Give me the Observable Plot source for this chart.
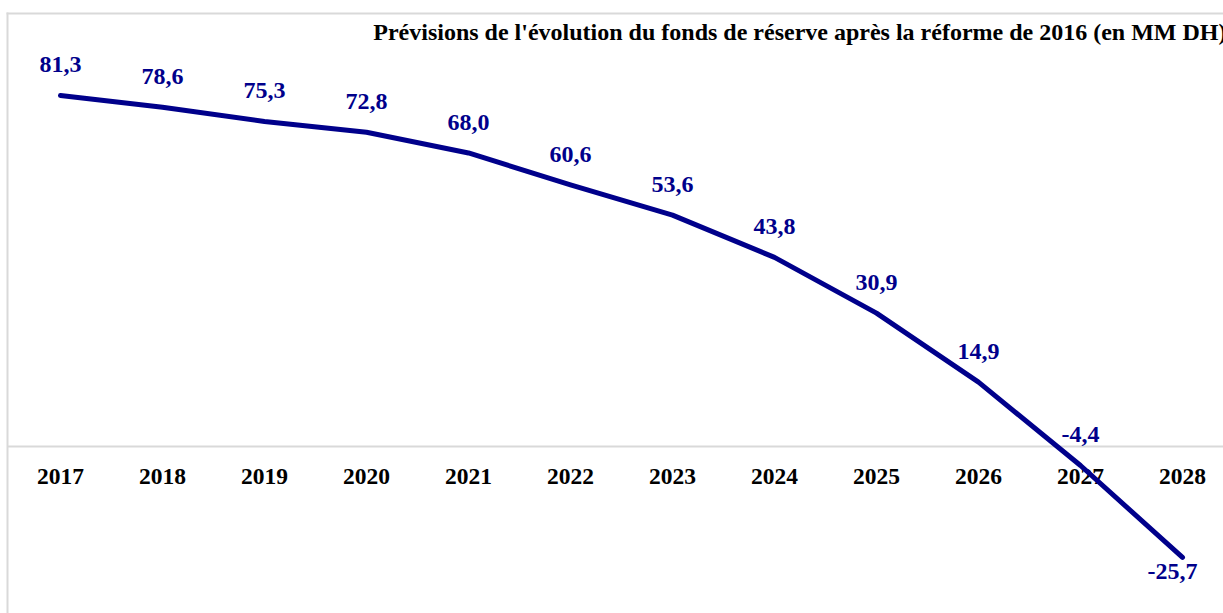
<!DOCTYPE html>
<html>
<head>
<meta charset="utf-8">
<script src="https://cdn.jsdelivr.net/npm/d3@7"></script>
<script src="https://cdn.jsdelivr.net/npm/@observablehq/plot@0.6"></script>
<style>
  html, body { margin: 0; padding: 0; background: #fff; overflow: hidden; }
  #chart svg { display: block; }
</style>
</head>
<body>
<div id="chart"></div>
<script>
const title = "Prévisions de l'évolution du fonds de réserve après la réforme de 2016 (en MM DH)";
const years = [2017, 2018, 2019, 2020, 2021, 2022, 2023, 2024, 2025, 2026, 2027, 2028];
const values = [81.3, 78.6, 75.3, 72.8, 68.0, 60.6, 53.6, 43.8, 30.9, 14.9, -4.4, -25.7];

const data = years.map((year, i) => ({year, value: values[i]}));
const fmt = v => v.toFixed(1).replace(".", ",");
const navy = "#00008B";
const serif = "'Liberation Serif', 'Times New Roman', serif";

const chart = Plot.plot({
  width: 1223,
  height: 613,
  marginLeft: 7,
  marginTop: 13,
  marginRight: 0,
  marginBottom: 0,
  style: {fontFamily: serif, background: "#fff", overflow: "hidden"},
  x: {type: "point", domain: years, range: [58, 1184], padding: 0, axis: null},
  y: {domain: [-30, 90], range: [575.5, 57.5], axis: null},
  marks: [
    Plot.frame({anchor: "left", stroke: "#d9d9d9", strokeWidth: 2}),
    Plot.frame({anchor: "top", stroke: "#d9d9d9", strokeWidth: 2}),
    Plot.ruleY([0], {stroke: "#d9d9d9", strokeWidth: 2}),
    Plot.text(years, {x: d => d, y: () => 0, text: d => String(d), dy: 30, lineAnchor: "middle",
      fontSize: 23.5, fontWeight: "bold", fill: "#000"}),
    Plot.line(data, {x: "year", y: "value", stroke: navy, strokeWidth: 5, strokeLinecap: "round", strokeLinejoin: "round"}),
    Plot.text(data.filter(d => d.value > -20), {x: "year", y: "value", text: d => fmt(d.value), dy: -31,
      lineAnchor: "middle", fontSize: 24, fontWeight: "bold", fill: navy}),
    Plot.text(data.filter(d => d.value <= -20), {x: "year", y: "value", text: d => fmt(d.value), dy: 14, dx: -10,
      lineAnchor: "middle", fontSize: 24, fontWeight: "bold", fill: navy}),
    Plot.text([title], {frameAnchor: "top-right", textAnchor: "end", lineAnchor: "top", dy: 9, dx: 3,
      fontSize: 24, fontWeight: "bold", fill: "#000"})
  ]
});
document.getElementById("chart").appendChild(chart);
</script>
</body>
</html>
